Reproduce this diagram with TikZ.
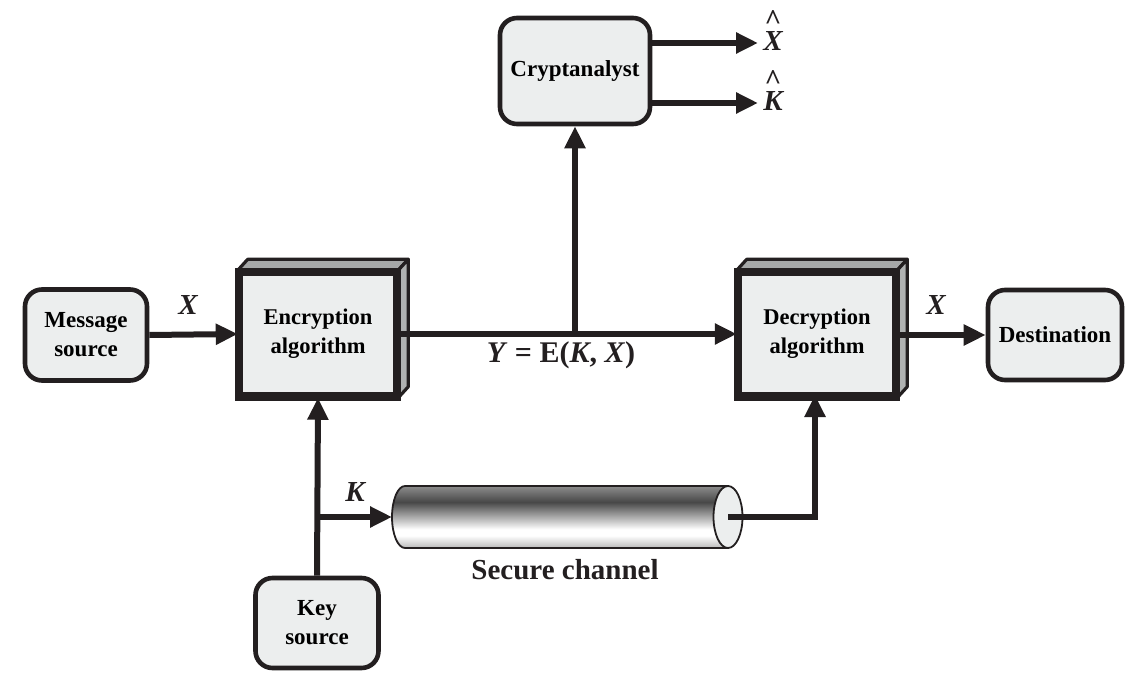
\documentclass[tikz,border=0pt]{standalone}
\usepackage{fontspec}
\setmainfont{Liberation Serif}
\usetikzlibrary{arrows.meta,positioning,shapes.geometric}
\definecolor{ink}{HTML}{231F20}
\definecolor{boxfill}{HTML}{ECEEEE}
\definecolor{topface}{HTML}{A6A8A8}
\definecolor{sideface}{HTML}{B0B2B2}
\pgfdeclareverticalshading{pipe}{100bp}{color(0bp)=(gray!55); color(25bp)=(gray!55); color(35bp)=(white); color(40bp)=(white); color(62bp)=(black!72); color(75bp)=(gray!90); color(100bp)=(gray!90)}
\begin{document}
\begin{tikzpicture}[x=1pt,y=-1pt,
  arr/.style={draw=ink,line width=6pt,-{Triangle[length=22pt,width=20pt]}},
  rbox/.style={draw=ink,line width=4.6pt,fill=boxfill,rounded corners=17pt,align=center,
     font=\fontsize{23}{29}\selectfont\bfseries,inner sep=0pt},
  cube/.style={draw=ink,line width=5.5pt,fill=boxfill,align=center,
     font=\fontsize{22.5}{29}\selectfont\bfseries,inner sep=0pt,minimum width=155pt,minimum height=122pt},
  lbl/.style={font=\fontsize{29}{30}\selectfont\bfseries\itshape,text=ink,inner sep=0pt},
  hatlbl/.style={font=\fontsize{29}{30}\selectfont\bfseries\itshape,text=ink,inner sep=0pt,align=center}
]
\useasboundingbox (0,0) rectangle (1142,679);

% rounded boxes
\node[rbox,minimum width=122pt,minimum height=91pt] (msg) at (86,335) {Message\\source};
\node[rbox,minimum width=134pt,minimum height=90pt] (dst) at (1055,335) {Destination};
\node[rbox,minimum width=150pt,minimum height=106pt] (cry) at (575,71) {Cryptanalyst};
\node[rbox,minimum width=123pt,minimum height=90pt] (key) at (317,623) {Key\\source};

% 3D boxes
\foreach \n/\cx/\t in {enc/318/{Encryption\\algorithm}, dec/817/{Decryption\\algorithm}}{
  \node[cube] (\n) at (\cx,334) {\t};
  \draw[ink,line width=3.2pt,line join=round,fill=topface]
     (\n.north west) -- ([shift={(10pt,11pt)}]\n.north west) -- ([shift={(10pt,11pt)}]\n.north east) -- (\n.north east) -- cycle;
  \draw[ink,line width=3.2pt,line join=round,fill=sideface]
     (\n.north east) -- ([shift={(10pt,11pt)}]\n.north east) -- ([shift={(10pt,11pt)}]\n.south east) -- (\n.south east) -- cycle;
  \draw[ink,line width=5.5pt] (\n.north west) rectangle (\n.south east);
}

% secure channel pipe
\coordinate (pipeL) at (392,517);
\coordinate (pipeR) at (728,517);
\shade[shading=pipe] (728,486) -- (405,486) arc[start angle=90,end angle=270,x radius=13,y radius=-31] -- (728,548) -- cycle;
\draw[ink,line width=1.8pt] (728,486) -- (405,486) arc[start angle=90,end angle=270,x radius=13,y radius=-31] -- (728,548);
\node[draw=ink,line width=1.8pt,fill=boxfill,ellipse,minimum width=29pt,minimum height=62pt,inner sep=0pt] (pipeEnd) at (pipeR) {};
\node[font=\fontsize{29}{30}\selectfont\bfseries,text=ink] (sc) at (565,570) {Secure channel};

% connectors
\draw[arr] (msg.east) -- (enc.west);
\node[lbl] (xin) at (188,305) {X};
\draw[arr] (dec.east |- dst.west) -- (dst.west);
\node[lbl] (xout) at (936,305) {X};

\draw[arr] (enc.east) -- (dec.west);
\coordinate (tap) at (575,334);
\draw[arr] (tap) -- (cry.south);
\node[font=\fontsize{30}{32}\selectfont\bfseries,text=ink] (ylbl) at (561,355) {\textit{Y} = E(\textit{K}, \textit{X})};

\coordinate (xh) at (758,43);
\coordinate (kh) at (758,103);
\draw[arr] (cry.east |- xh) -- (xh);
\draw[arr] (cry.east |- kh) -- (kh);
\node[hatlbl] (xhat) at (773,31) {{\upshape\^{}}\\[-9pt]X};
\node[hatlbl] (khat) at (773,91) {{\upshape\^{}}\\[-9pt]K};

\draw[arr] (key.north) -- (enc.south);
\coordinate (branch) at (317,517);
\draw[arr] (branch) -- (pipeL);
\node[lbl] (klbl) at (355,492) {K};
\draw[arr] (pipeEnd.center) -- (815,517) -- (815,395);
\end{tikzpicture}
\end{document}
